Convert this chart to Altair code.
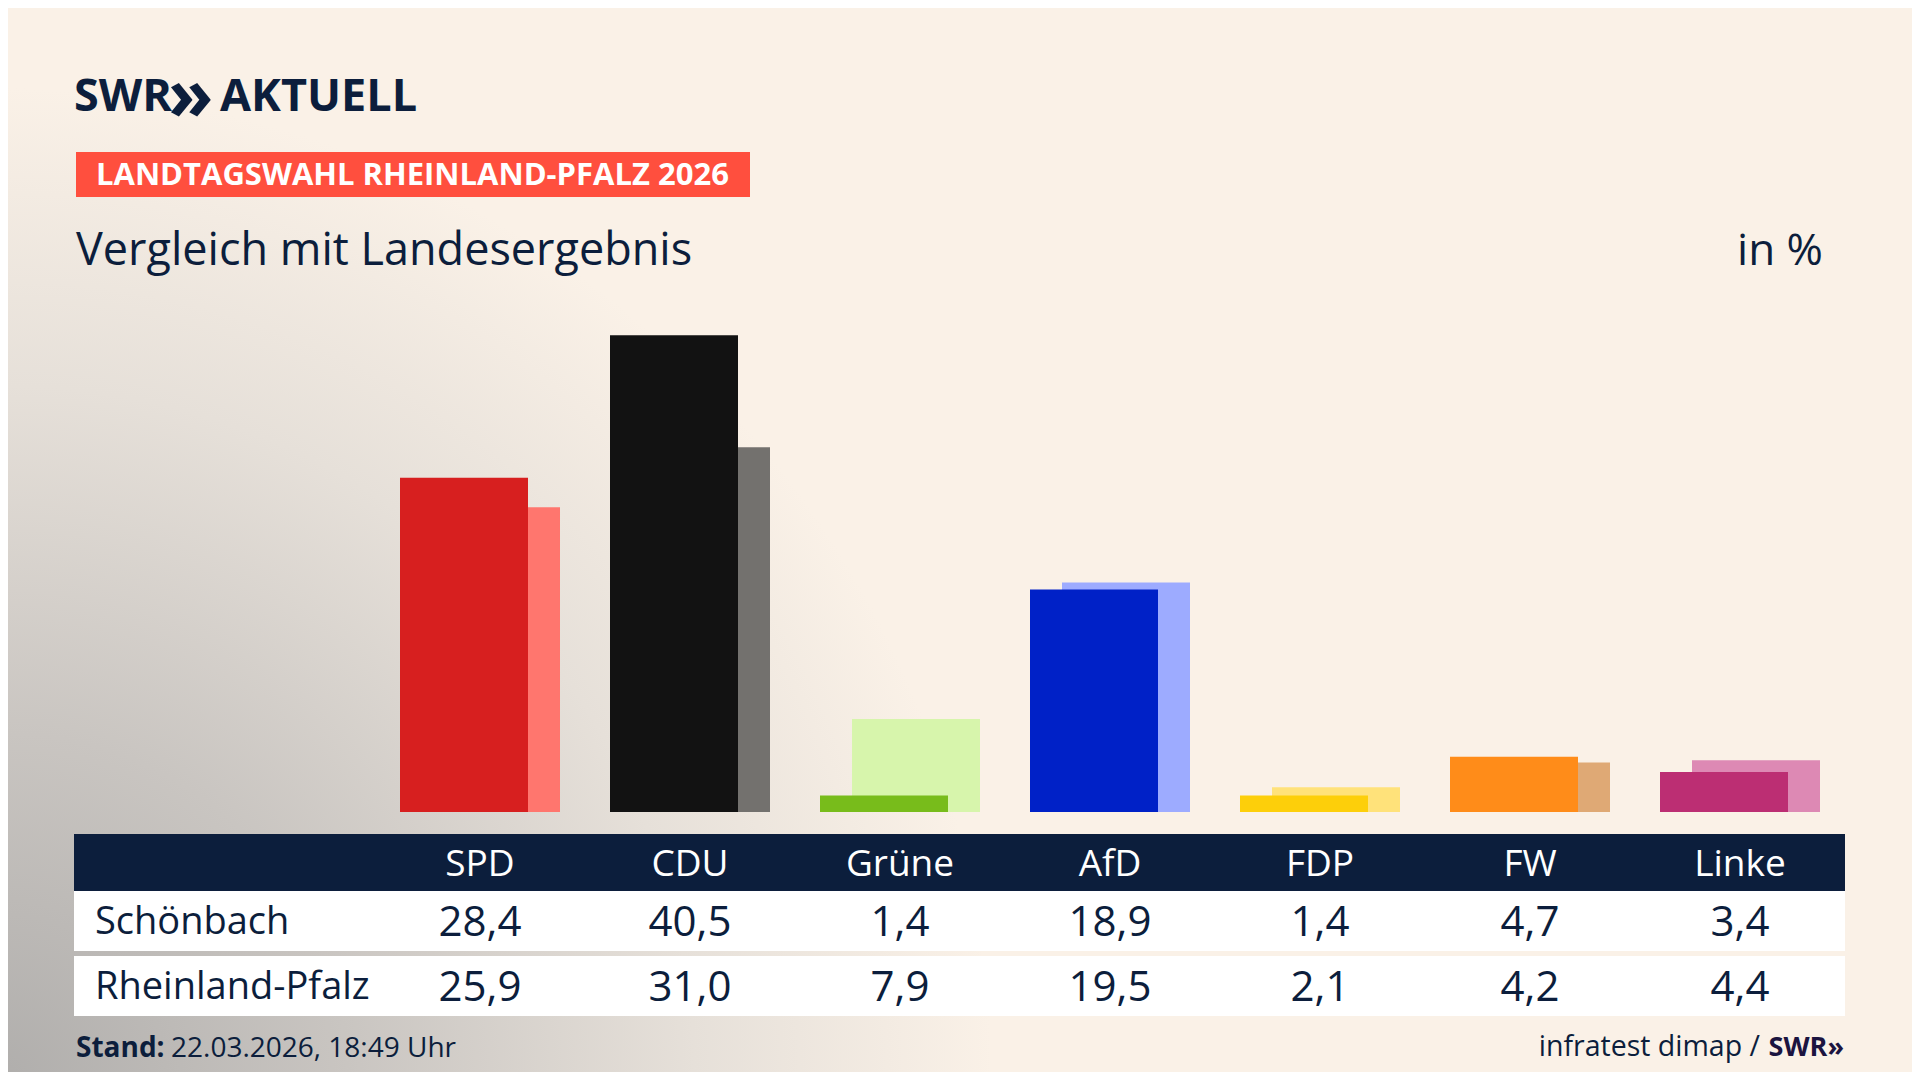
import altair as alt
import pandas as pd

# ---------------- data ----------------
parties = ["SPD", "CDU", "Grüne", "AfD", "FDP", "FW", "Linke"]
schoenbach = [28.4, 40.5, 1.4, 18.9, 1.4, 4.7, 3.4]
rheinland_pfalz = [25.9, 31.0, 7.9, 19.5, 2.1, 4.2, 4.4]
front_colors = ["#D71F1F", "#121212", "#78BC1B", "#0021C7", "#FDCF0A", "#FF8C19", "#BC2E73"]
back_colors = ["#FF766E", "#73716E", "#D7F5AC", "#9DABFF", "#FFE27A", "#DFA975", "#DD89B4"]
row_names = ["Schönbach", "Rheinland-Pfalz"]

brand_left = "SWR"
brand_mark = "»"
brand_right = "AKTUELL"
kicker = "LANDTAGSWAHL RHEINLAND-PFALZ 2026"
subtitle = "Vergleich mit Landesergebnis"
unit = "in %"
stand_label = "Stand:"
stand_text = "22.03.2026, 18:49 Uhr"
source_text = "infratest dimap /"
source_brand = "SWR»"


def de(v):
    return f"{v:.1f}".replace(".", ",")


df = pd.DataFrame({
    "party": parties,
    "local": schoenbach,
    "state": rheinland_pfalz,
    "local_lbl": [de(v) for v in schoenbach],
    "state_lbl": [de(v) for v in rheinland_pfalz],
    "front": front_colors,
    "back": back_colors,
})
one = pd.DataFrame({"k": [0]})

# ---------------- style ----------------
W, H = 1904, 1064
NAVY = "#0C1E3C"
CREAM = "#FAF1E7"
FONT = "Open Sans"
BASE = 804
PX_PER_PCT = 11.77

X = alt.Scale(domain=parties, range=[367, 1837], paddingInner=0, paddingOuter=0)
Y = alt.Scale(domain=[0, 45], range=[BASE, BASE - 45 * PX_PER_PCT], nice=False, zero=True)


def xenc():
    return alt.X("party:N", scale=X, axis=None, sort=parties)


def label(txt, x, y, size, color=NAVY, weight=400, align="left", font=FONT):
    return alt.Chart(one).mark_text(
        text=txt, font=font, fontSize=size, fontWeight=weight, color=color,
        align=align, baseline="alphabetic"
    ).encode(x=alt.value(x), y=alt.value(y))


def box(x, x2, y, y2, color):
    return alt.Chart(one).mark_rect(color=color).encode(
        x=alt.value(x), x2=alt.value(x2), y=alt.value(y), y2=alt.value(y2))


bg = alt.Chart(one).mark_rect(fill={
    "gradient": "radial", "x1": 0.5, "y1": 0.5, "r1": 0, "x2": 0.5, "y2": 0.5, "r2": 0.5,
    "stops": [
        {"offset": 0.0, "color": "#B0AEAC"},
        {"offset": 0.35, "color": "#C9C5C1"},
        {"offset": 0.7, "color": "#E6E0D9"},
        {"offset": 1.0, "color": CREAM},
    ],
}).encode(x=alt.value(-1000), x2=alt.value(984), y=alt.value(80), y2=alt.value(2064))

logo = (
    label(brand_left, 66, 103, 45, weight=700)
    + label(brand_mark, 160, 112, 74, weight=700)
    + label(brand_right, 212, 103, 45, weight=700)
)

kicker_layer = box(68, 742, 144, 189, "#FF4F3E") + label(kicker, 88, 177, 31, color="white", weight=700)
titles = label(subtitle, 68, 257, 45) + label(unit, 1815, 257, 44, align="right")

back_bars = alt.Chart(df).mark_bar(width=128, xOffset=16).encode(
    x=xenc(), y=alt.Y("state:Q", scale=Y, axis=None), color=alt.Color("back:N", scale=None))
front_bars = alt.Chart(df).mark_bar(width=128, xOffset=-16).encode(
    x=xenc(), y=alt.Y("local:Q", scale=Y, axis=None), color=alt.Color("front:N", scale=None))

table_bg = box(66, 1837, 826, 883, NAVY) + box(66, 1837, 883, 943, "white") + box(66, 1837, 948, 1008, "white")

head = alt.Chart(df).mark_text(font=FONT, fontSize=37, color="white", baseline="alphabetic").encode(
    x=xenc(), y=alt.value(868), text="party:N")
row1 = alt.Chart(df).mark_text(font=FONT, fontSize=42, color=NAVY, baseline="alphabetic").encode(
    x=xenc(), y=alt.value(928), text="local_lbl:N")
row2 = alt.Chart(df).mark_text(font=FONT, fontSize=42, color=NAVY, baseline="alphabetic").encode(
    x=xenc(), y=alt.value(993), text="state_lbl:N")
row_labels = label(row_names[0], 87, 926, 38) + label(row_names[1], 87, 991, 38)

footer = (
    label(stand_label, 68, 1049, 28, weight=700)
    + label(stand_text, 163, 1049, 28)
    + label(source_brand, 1836, 1048, 27, weight=700, align="right", color="#1B1440")
    + label(source_text, 1752, 1048, 28.5, align="right")
)

chart = alt.layer(
    bg, logo, kicker_layer, titles, back_bars, front_bars, table_bg, head, row1, row2, row_labels, footer
).properties(
    width=W, height=H, autosize="none", padding=0, background=CREAM
).configure_view(stroke=None)

chart.save("out.html", embed_options={"renderer": "svg", "actions": False})
